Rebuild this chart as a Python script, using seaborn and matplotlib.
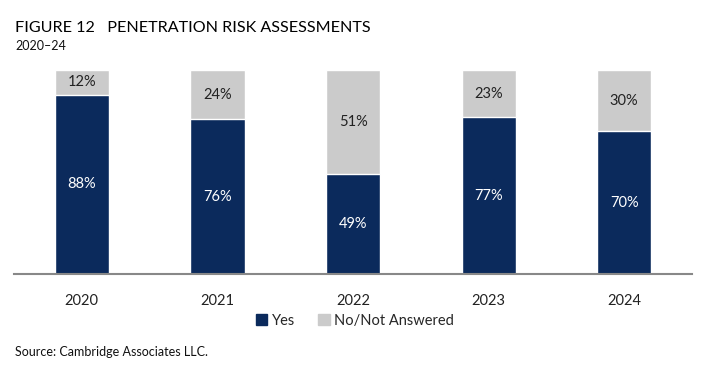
import matplotlib
matplotlib.use("Agg")
import matplotlib.pyplot as plt
import seaborn as sns
import pandas as pd
from matplotlib.patches import Patch

years = ["2020", "2021", "2022", "2023", "2024"]
yes_pct = [88, 76, 49, 77, 70]
no_pct = [12, 24, 51, 23, 30]

NAVY = "#0b2a5c"
GRAY = "#cbcbcb"

sns.set_style("white")
plt.rcParams['font.family'] = ['Lato', 'DejaVu Sans']

df = pd.DataFrame({"year": years, "yes": yes_pct, "no": no_pct})
df["total"] = df["yes"] + df["no"]

fig = plt.figure(figsize=(7.1, 3.73), dpi=100)
ax = fig.add_axes([0.0197, 0.265, 0.955, 0.547])

# stacked: grey total underneath, navy "yes" on top of it
sns.barplot(data=df, x="year", y="total", color=GRAY, width=0.4, saturation=1, ax=ax)
sns.barplot(data=df, x="year", y="yes", color=NAVY, width=0.4, saturation=1, ax=ax)

for i, row in df.iterrows():
    ax.text(i, row["yes"] / 2, f"{row['yes']}%", ha="center", va="center",
            color="white", fontsize=10.5)
    ax.text(i, row["yes"] + row["no"] / 2, f"{row['no']}%", ha="center", va="center",
            color="#222222", fontsize=10.5)

ax.set_ylim(0, 100)
ax.set_xlim(-0.5, 4.5)
ax.set_xlabel("")
ax.set_ylabel("")
ax.set_yticks([])
for s in ["top", "right", "left"]:
    ax.spines[s].set_visible(False)
ax.spines["bottom"].set_color("#888888")
ax.spines["bottom"].set_linewidth(1.5)
ax.tick_params(axis="x", length=0, pad=14, labelsize=10.5, labelcolor="#222222")

handles = [Patch(color=NAVY, label="Yes"), Patch(color=GRAY, label="No/Not Answered")]
fig.legend(handles=handles, loc="center", bbox_to_anchor=(0.5, 0.14), ncol=2, frameon=False,
           fontsize=10.5, handlelength=0.8, handleheight=0.8, handletextpad=0.3, columnspacing=1.6)

fig.text(0.021, 0.925, "FIGURE 12   PENETRATION RISK ASSESSMENTS", fontsize=11.6,
         color="#000000", va="center")
fig.text(0.021, 0.878, "2020–24", fontsize=9, color="#111111", va="center")
fig.text(0.021, 0.055, "Source: Cambridge Associates LLC.", fontsize=9, color="#111111", va="center")

fig.savefig("out.png", dpi=100)
